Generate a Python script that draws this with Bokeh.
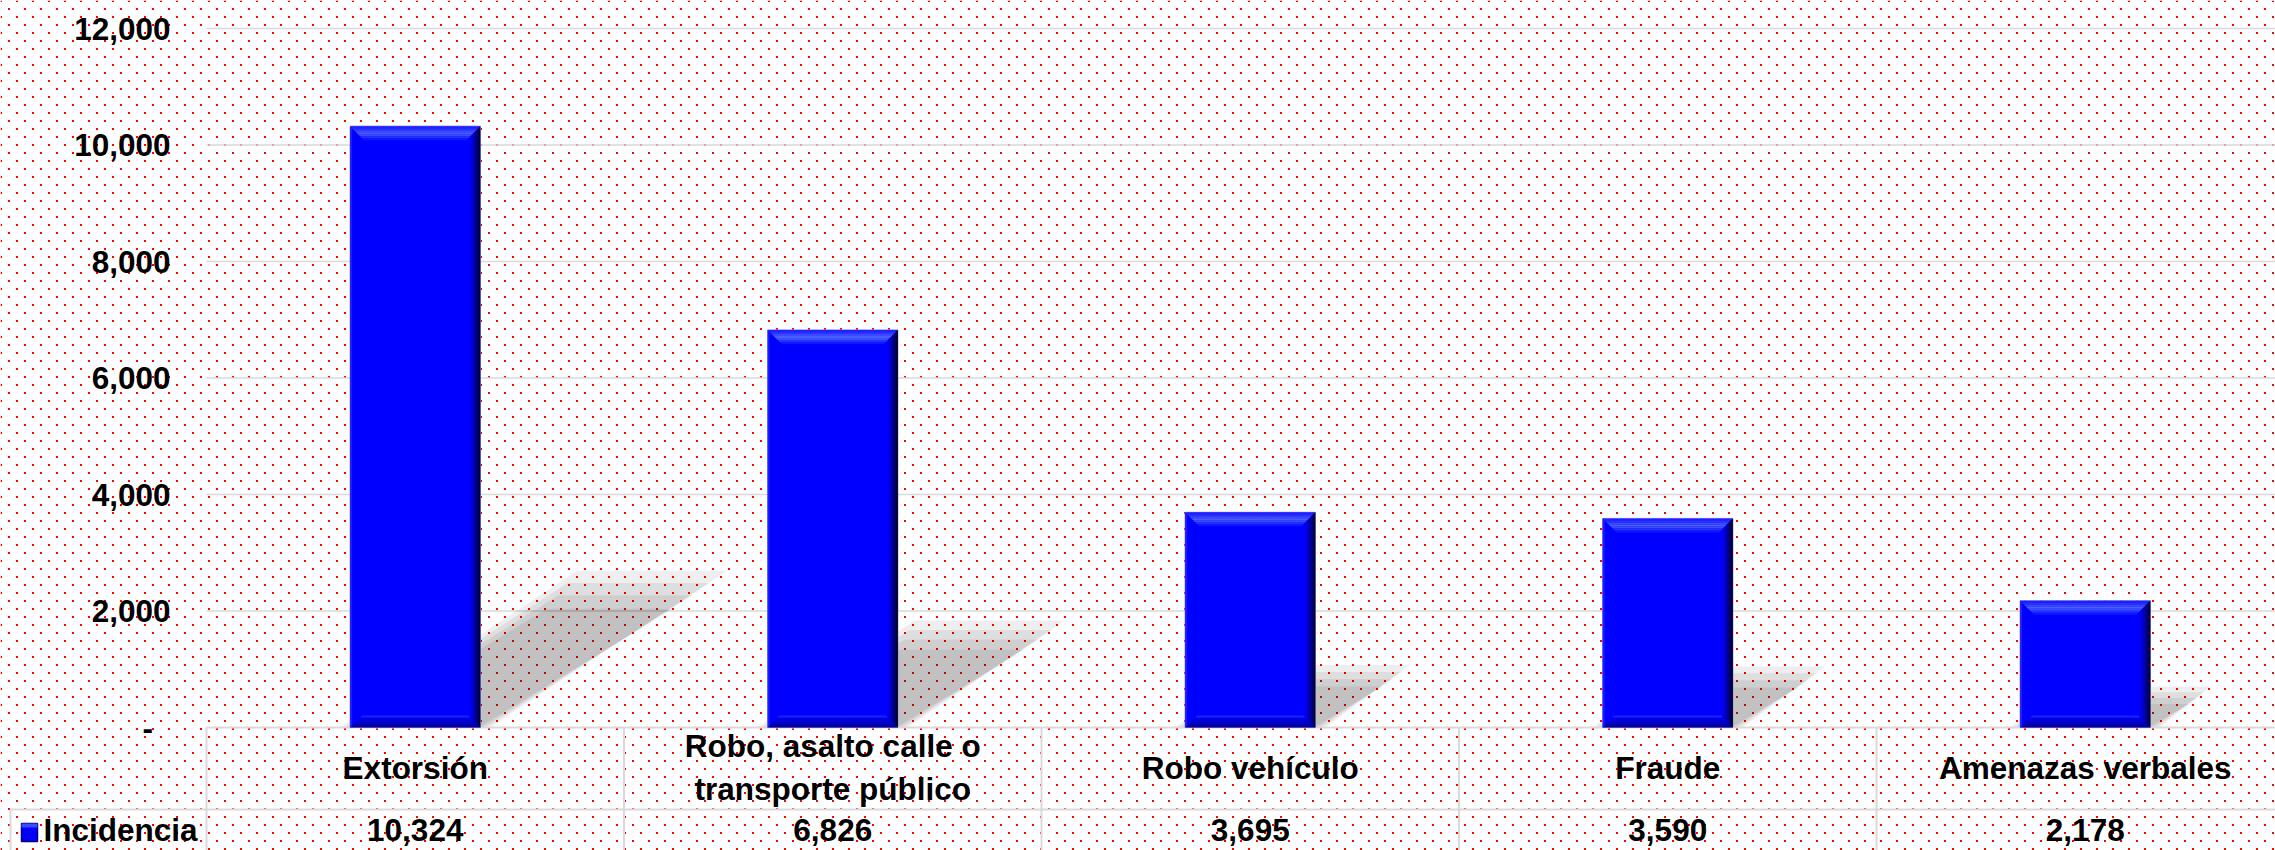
import base64, struct, zlib
from bokeh.plotting import figure
from bokeh.models import (ColumnDataSource, FixedTicker, NumeralTickFormatter, BoxAnnotation,
                          ImageURLTexture, Range1d)
from bokeh.core.properties import value
from bokeh.embed import file_html
from bokeh.resources import INLINE

# ---------------- data ----------------
categories = ["Extorsión", "Robo, asalto calle o\ntransporte público", "Robo vehículo",
              "Fraude", "Amenazas verbales"]
incidencia = [10324, 6826, 3695, 3590, 2178]
series_name = "Incidencia"
y_ticks = [0, 2000, 4000, 6000, 8000, 10000, 12000]

# ---------------- geometry ----------------
W, H = 2275, 850
PX_X = 417.5                       # pixels per category band
PX_Y = 0.05825                     # pixels per unit of y
X_START = -0.5 - 206 / PX_X
X_END = X_START + W / PX_X
Y_TOP = 12000 + 28 / PX_Y
Y_BOT = Y_TOP - H / PX_Y
BAR_W = 0.312
FONT = "Liberation Sans"
FS = "31.5px"
GRID = "#D9D9D9"

n = len(categories)
xi = list(range(n))

def sx(px):   # canvas px -> data x
    return X_START + px / PX_X

def sy(py):   # canvas px -> data y
    return Y_TOP - py / PX_Y

# ---------------- dotted background texture ----------------
def png_tile():
    w = h = 16
    rows = []
    for y in range(h):
        row = bytearray(b"\x00")
        for x in range(w):
            dot = (y in (0, 1) and x in (0, 1)) or (y in (8, 9) and x in (8, 9))
            row += bytes((255, 0, 0, 255)) if dot else bytes((255, 255, 255, 0))
        rows.append(bytes(row))
    raw = b"".join(rows)
    def chunk(t, d):
        c = struct.pack(">I", len(d)) + t + d
        return c + struct.pack(">I", zlib.crc32(t + d) & 0xFFFFFFFF)
    png = b"\x89PNG\r\n\x1a\n" + chunk(b"IHDR", struct.pack(">IIBBBBB", w, h, 8, 6, 0, 0, 0)) \
        + chunk(b"IDAT", zlib.compress(raw)) + chunk(b"IEND", b"")
    return "data:image/png;base64," + base64.b64encode(png).decode()

p = figure(width=W, height=H, x_range=Range1d(X_START, X_END), y_range=Range1d(Y_BOT, Y_TOP),
           output_backend="svg", toolbar_location=None, x_axis_location=None,
           min_border_left=0, min_border_right=0, min_border_top=0, min_border_bottom=0)
p.outline_line_color = None
p.background_fill_color = "white"
p.border_fill_color = "white"
p.xgrid.visible = False
p.ygrid.visible = False

dots = BoxAnnotation(fill_alpha=0, line_alpha=0,
                     hatch_pattern="reddots",
                     hatch_extra={"reddots": ImageURLTexture(url=png_tile(), repetition="repeat")},
                     level="underlay")
p.add_layout(dots)

# ---------------- y axis (fixed at the left edge of the first category band) ----------------
ax = p.yaxis[0]
ax.fixed_location = -0.5
ax.ticker = FixedTicker(ticks=y_ticks)
ax.formatter = NumeralTickFormatter(format="0,0")
ax.major_label_overrides = {0: "-\u00a0\u00a0"}
ax.axis_line_color = None
ax.major_tick_line_color = None
ax.minor_tick_line_color = None
ax.major_tick_out = 0
ax.major_tick_in = 0
ax.major_label_standoff = 36
ax.major_label_text_font = FONT
ax.major_label_text_font_style = "bold"
ax.major_label_text_font_size = FS
ax.major_label_text_color = "black"

# gridlines (only across the plotting bands)
gt = y_ticks[1:]
p.segment(x0=[-0.5] * len(gt), y0=gt, x1=[X_END] * len(gt), y1=gt,
          line_color=GRID, line_width=1.5)

# ---------------- shadows ----------------
sxs, sys_ = [], []
for layer_e, layer_s in [(10, 1.07), (6, 1.01), (2, 0.95), (-2, 0.88)]:
    for i, v in zip(xi, incidencia):
        xl, xr = i - BAR_W / 2, i + BAR_W / 2
        h_px = v * PX_Y
        dx = 0.368 * h_px * layer_s / PX_X
        top = 0.228 * v * layer_s + layer_e / PX_Y
        e = layer_e / PX_X
        sxs.append([xl - e, xr + e, xr + dx + e, xl + dx - e])
        sys_.append([0, 0, top, top])
p.patches(sxs, sys_, fill_color="black", fill_alpha=0.065, line_color=None)

# ---------------- table lines ----------------
X_LBL = sx(10)
ROW_SEP = sy(809)
bounds = [i - 0.5 for i in xi]
p.segment(x0=bounds, y0=[0] * n, x1=bounds, y1=[Y_BOT] * n, line_color=GRID, line_width=2)
p.segment(x0=[-0.5, X_LBL, X_LBL], y0=[0, ROW_SEP, ROW_SEP],
          x1=[X_END, X_END, X_LBL], y1=[0, ROW_SEP, Y_BOT],
          line_color=GRID, line_width=2)

# ---------------- bars ----------------
src = ColumnDataSource(dict(left=[i - BAR_W / 2 for i in xi], right=[i + BAR_W / 2 for i in xi],
                            top=incidencia, bottom=[0] * n))
bars = p.quad(left="left", right="right", top="top", bottom="bottom", source=src,
              fill_color="#0000FF", line_color="#8A8AE6", line_width=1)

top_cols = ["#2020FF", "#2A30FF", "#3A4AFF", "#4A5EFF", "#3C4EFF", "#2232FF", "#0F18FF"]
right_cols = ["#00002A", "#000058", "#000088", "#0000B8", "#0000E0", None, None]
bottom_cols = ["#000090", "#0000A8", "#0000C0", "#0000D0", "#0000E0", "#1525FF", None]
left_cols = ["#1C1CFF", None, None, None, None, None, None]
LVL = 2
bxs, bys, bcs = [], [], []
for i, v in zip(xi, incidencia):
    x0, x1, y0, y1 = i - BAR_W / 2, i + BAR_W / 2, 0, v
    for k in range(7):
        a_x, b_x = k * LVL / PX_X, (k + 1) * LVL / PX_X
        a_y, b_y = k * LVL / PX_Y, (k + 1) * LVL / PX_Y
        if top_cols[k]:
            bxs.append([x0 + a_x, x1 - a_x, x1 - b_x, x0 + b_x])
            bys.append([y1 - a_y, y1 - a_y, y1 - b_y, y1 - b_y]); bcs.append(top_cols[k])
        if right_cols[k]:
            bxs.append([x1 - a_x, x1 - a_x, x1 - b_x, x1 - b_x])
            bys.append([y1 - a_y, y0 + a_y, y0 + b_y, y1 - b_y]); bcs.append(right_cols[k])
        if bottom_cols[k]:
            bxs.append([x0 + a_x, x1 - a_x, x1 - b_x, x0 + b_x])
            bys.append([y0 + a_y, y0 + a_y, y0 + b_y, y0 + b_y]); bcs.append(bottom_cols[k])
        if left_cols[k]:
            bxs.append([x0 + a_x, x0 + a_x, x0 + b_x, x0 + b_x])
            bys.append([y1 - a_y, y0 + a_y, y0 + b_y, y1 - b_y]); bcs.append(left_cols[k])
p.patches(xs="xs", ys="ys", fill_color="c", line_color=None,
          source=ColumnDataSource(dict(xs=bxs, ys=bys, c=bcs)))

# ---------------- table text ----------------
p.text(x=xi, y=[sy(767)] * n, text=categories, text_align="center",
       text_baseline="middle", text_font=value(FONT), text_font_style="bold",
       text_font_size=FS, text_line_height=1.22, text_color="black")
p.text(x=xi, y=[sy(829)] * n, text=[f"{v:,}" for v in incidencia],
       text_align="center", text_baseline="middle", text_font=value(FONT),
       text_font_style="bold", text_font_size=FS, text_color="black")

# series key + name in the table's label column
p.quad(left=[sx(21)], right=[sx(37)], top=[sy(823)], bottom=[sy(841)],
       fill_color="#0000FF", line_color="#00007A", line_width=1.5)
p.quad(left=[sx(21)], right=[sx(37)], top=[sy(823)], bottom=[sy(827)],
       fill_color="#3A4AFF", line_color=None)
p.text(x=[sx(43)], y=[sy(829)], text=[series_name], text_align="left",
       text_baseline="middle", text_font=value(FONT), text_font_style="bold",
       text_font_size=FS, text_color="black")

open("out.html", "w").write(file_html(p, INLINE))
